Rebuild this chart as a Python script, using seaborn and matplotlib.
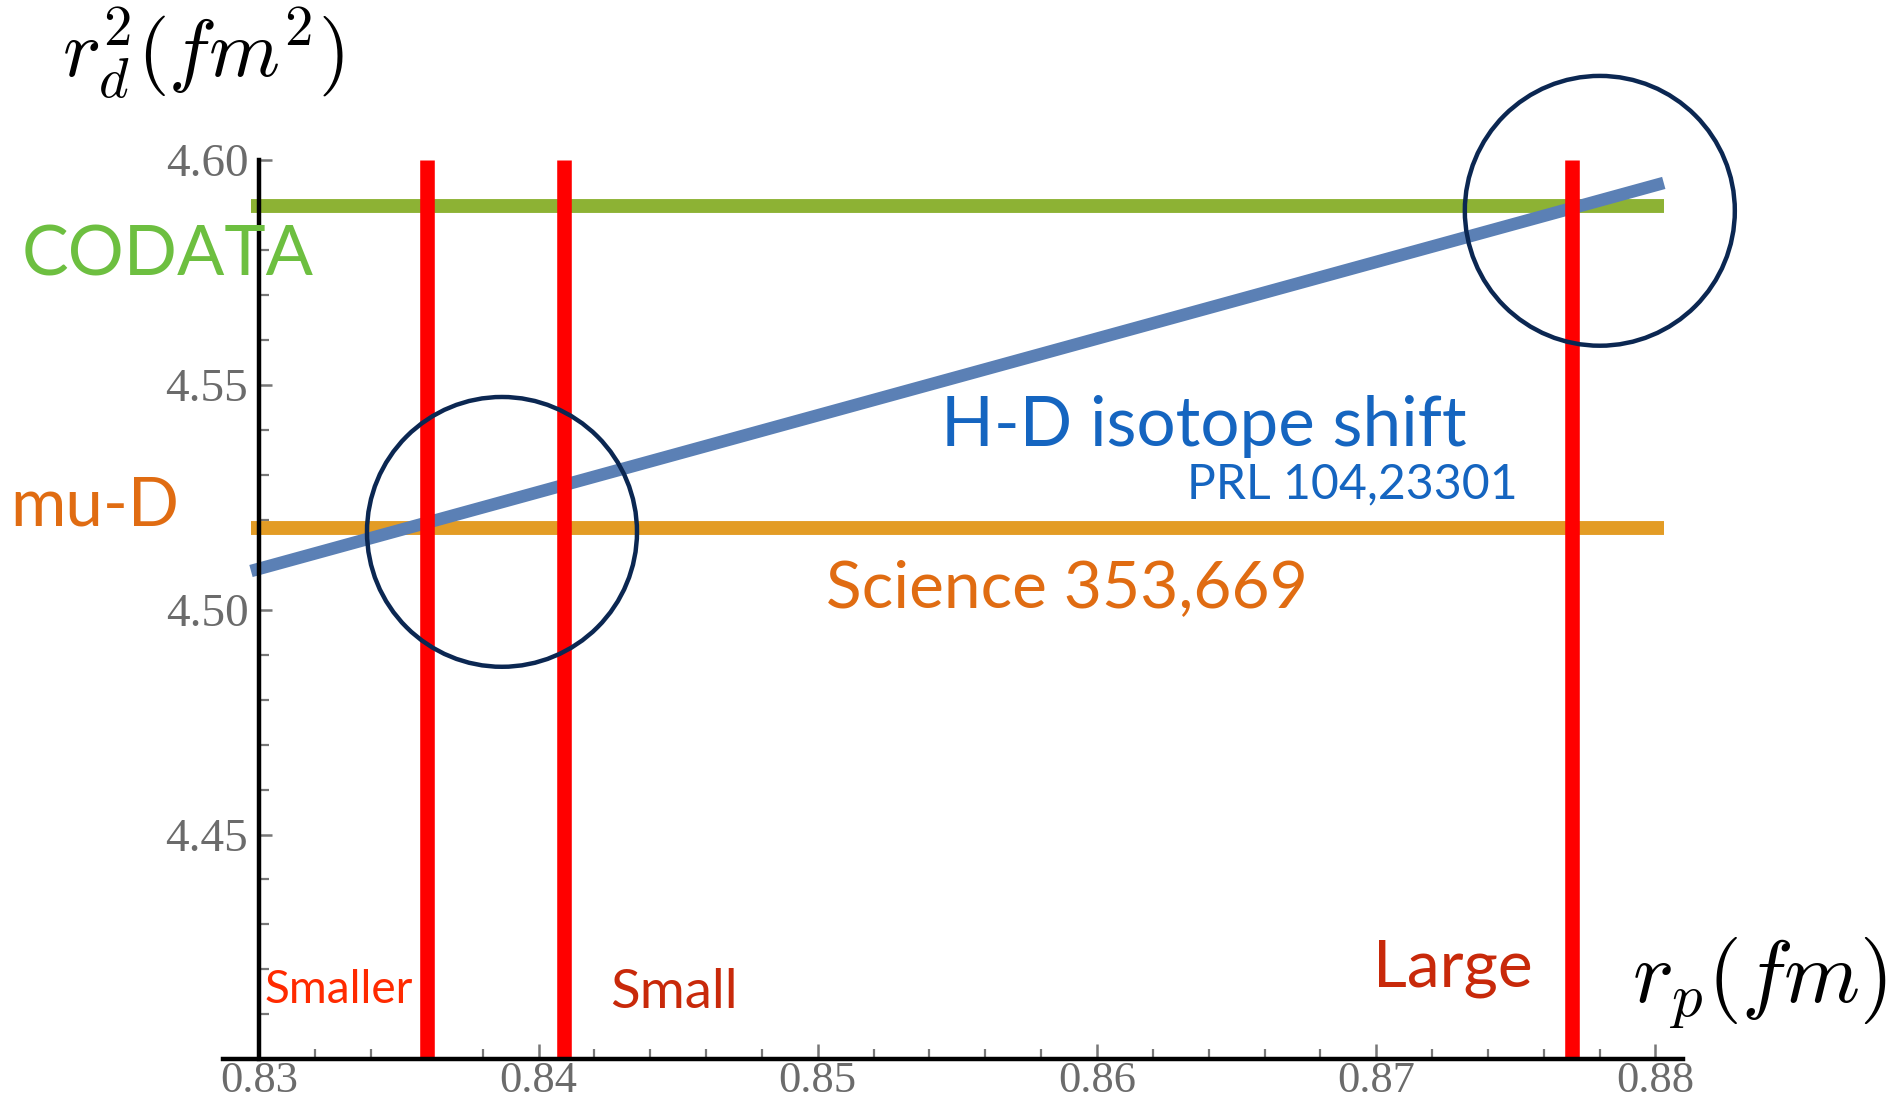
import numpy as np
import pandas as pd
import seaborn as sns
import matplotlib
matplotlib.use("Agg")
import matplotlib.pyplot as plt
from matplotlib.patches import Ellipse
from matplotlib.ticker import MultipleLocator, FixedLocator

# ---------------- data ----------------
hd_rp = [0.8297, 0.8803]            # H-D isotope shift line, r_p (fm)
hd_rd2 = [4.5086, 4.5949]           # H-D isotope shift line, r_d^2 (fm^2)
band_rp = [0.8297, 0.8803]          # extent of horizontal reference lines
codata_rd2 = 4.5898                 # CODATA r_d^2
mud_rd2 = 4.5182                    # muonic deuterium r_d^2
rp_values = [0.8360, 0.8409, 0.8770]  # proton radius candidates
rp_names = ["Smaller", "Small", "Large"]
vline_rd2 = [4.40, 4.60]
circle_rp = [0.83869, 0.87801]
circle_rd2 = [4.5173, 4.5887]
x_ticks = [0.83, 0.84, 0.85, 0.86, 0.87, 0.88]
x_tick_labels = ["0.83", "0.84", "0.85", "0.86", "0.87", "0.88"]
y_ticks = [4.45, 4.50, 4.55, 4.60]
y_tick_labels = ["4.45", "4.50", "4.55", "4.60"]

W, H = 1892, 1108

sns.set_theme(style="white")
plt.rcParams["font.family"] = ["Liberation Serif", "DejaVu Serif"]
plt.rcParams["mathtext.fontset"] = "cm"

fig = plt.figure(figsize=(W / 100, H / 100), dpi=100)
fig.patch.set_facecolor("white")
ax = fig.add_axes([0.1179, 0.0439, 0.7718, 0.8117])
ax.set_facecolor("white")

# horizontal lines
codata_df = pd.DataFrame({"rp": band_rp, "rd2": [codata_rd2] * len(band_rp)})
mud_df = pd.DataFrame({"rp": band_rp, "rd2": [mud_rd2] * len(band_rp)})
hd_df = pd.DataFrame({"rp": hd_rp, "rd2": hd_rd2})

sns.lineplot(data=codata_df, x="rp", y="rd2", ax=ax, color="#8db234",
             linewidth=10, solid_capstyle="butt", zorder=2)
sns.lineplot(data=mud_df, x="rp", y="rd2", ax=ax, color="#e39c25",
             linewidth=10, solid_capstyle="butt", zorder=2)
sns.lineplot(data=hd_df, x="rp", y="rd2", ax=ax, color="#5b80b5",
             linewidth=9, solid_capstyle="butt", zorder=3)

# vertical red lines
for v in rp_values:
    vdf = pd.DataFrame({"rp": [v, v], "rd2": vline_rd2})
    sns.lineplot(data=vdf, x="rp", y="rd2", ax=ax, color="#ff0000",
                 linewidth=10.5, solid_capstyle="butt", estimator=None,
                 sort=False, zorder=4, clip_on=False)

# circles (equal pixel radius -> ellipse in data units)
rx, ry = 0.004835, 0.0300
for cx, cy in zip(circle_rp, circle_rd2):
    ax.add_patch(Ellipse((cx, cy), 2 * rx, 2 * ry, fill=False,
                         edgecolor="#0b2752", linewidth=3.2,
                         clip_on=False, zorder=6))

# axes styling
ax.set_xlim(0.8287, 0.881)
ax.set_ylim(4.40, 4.60)
ax.set_xlabel("")
ax.set_ylabel("")
for s in ["top", "right"]:
    ax.spines[s].set_visible(False)
ax.spines["left"].set_position(("data", 0.83))
for s in ["left", "bottom"]:
    ax.spines[s].set_color("black")
    ax.spines[s].set_linewidth(3.2)
    ax.spines[s].set_zorder(5)

ax.xaxis.set_major_locator(FixedLocator(x_ticks))
ax.set_xticklabels(x_tick_labels)
ax.yaxis.set_major_locator(FixedLocator(y_ticks))
ax.set_yticklabels(y_tick_labels)
ax.xaxis.set_minor_locator(MultipleLocator(0.002))
ax.yaxis.set_minor_locator(MultipleLocator(0.01))
ax.tick_params(axis="x", which="major", direction="in", length=11, width=1.8,
               color="#777777", labelsize=32, labelcolor="#6b6b6b", pad=1,
               bottom=True)
ax.tick_params(axis="y", which="major", direction="in", length=9, width=1.8,
               color="#777777", labelsize=34, labelcolor="#6b6b6b", pad=8,
               left=True)
ax.tick_params(axis="x", which="minor", direction="in", length=7, width=1.6,
               color="#777777", bottom=True)
ax.tick_params(axis="y", which="minor", direction="in", length=7, width=1.6,
               color="#777777", left=True)
ax.grid(False)

# ---------------- annotations ----------------
def ftext(x_px, base_px, s, color, size, family="Lato", **kw):
    return fig.text(x_px / W, 1 - base_px / H, s, color=color, fontsize=size,
                    family=family, ha="left", va="baseline", **kw)

texts = [
    (ftext(22, 275, "CODATA", "#6dbf40", 50), 292),
    (ftext(10, 526, "mu-D", "#e06c12", 48), 169),
    (ftext(941, 446, "H-D isotope shift", "#1565c0", 50), 525),
    (ftext(1187, 498, "PRL 104,23301", "#1565c0", 36), 330),
    (ftext(826, 607, "Science 353,669", "#e06c12", 46), 482),
    (ftext(265, 1003, rp_names[0], "#ff2a00", 30), 148),
    (ftext(610, 1008, rp_names[1], "#c8290a", 38), 128),
    (ftext(1373, 987, rp_names[2], "#c8290a", 44), 160),
    (ftext(62, 78, r"$r_d^2(fm^2)$", "black", 46, family="DejaVu Sans"), 282),
    (ftext(1632, 1002, r"$r_p(fm)$", "black", 46, family="DejaVu Sans"), 256),
]

fig.canvas.draw()
renderer = fig.canvas.get_renderer()
for t, target in texts:
    w = t.get_window_extent(renderer).width
    t.set_fontsize(t.get_fontsize() * target / w)

fig.savefig("out.png", dpi=100, facecolor="white")
